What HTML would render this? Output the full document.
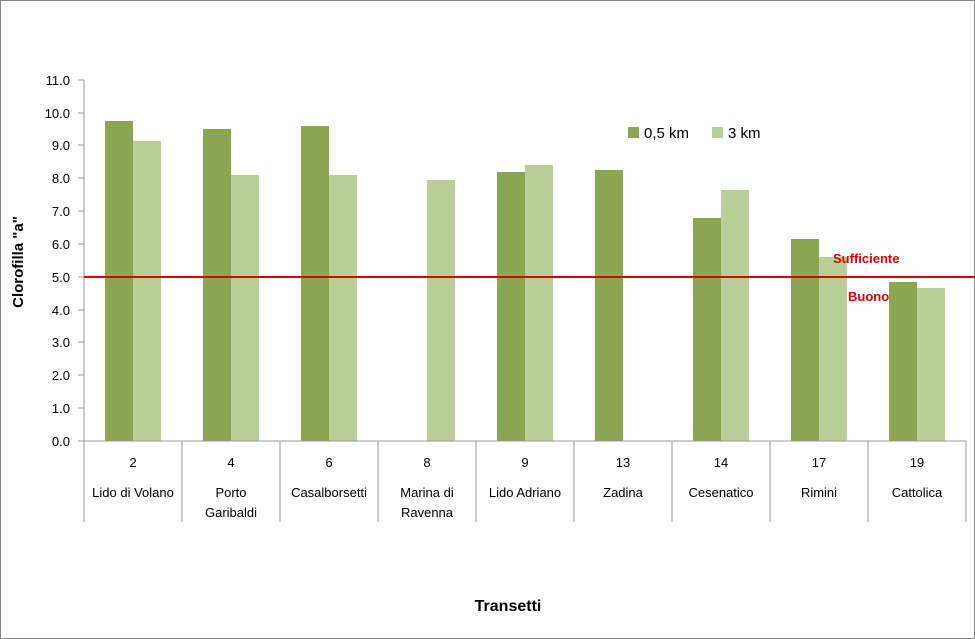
<!DOCTYPE html>
<html><head><style>body{margin:0;background:#fff}svg{display:block}text{font-family:"Liberation Sans",sans-serif}</style></head><body>
<svg width="975" height="639" xmlns="http://www.w3.org/2000/svg">
<rect x="0.5" y="0.5" width="974" height="638" fill="#fff" stroke="#888"/>
<g font-size="13" fill="#000" text-anchor="end">
<text x="70" y="446">0.0</text><text x="70" y="413">1.0</text><text x="70" y="380">2.0</text><text x="70" y="347">3.0</text><text x="70" y="315">4.0</text><text x="70" y="282">5.0</text><text x="70" y="249">6.0</text><text x="70" y="216">7.0</text><text x="70" y="183">8.0</text><text x="70" y="150">9.0</text><text x="70" y="118">10.0</text><text x="70" y="85">11.0</text>
</g>
<g stroke="#999"><line x1="84" y1="80" x2="84" y2="522"/>
<line x1="78" y1="441" x2="84" y2="441"/><line x1="78" y1="408" x2="84" y2="408"/><line x1="78" y1="375" x2="84" y2="375"/><line x1="78" y1="342" x2="84" y2="342"/><line x1="78" y1="310" x2="84" y2="310"/><line x1="78" y1="277" x2="84" y2="277"/><line x1="78" y1="244" x2="84" y2="244"/><line x1="78" y1="211" x2="84" y2="211"/><line x1="78" y1="178" x2="84" y2="178"/><line x1="78" y1="145" x2="84" y2="145"/><line x1="78" y1="113" x2="84" y2="113"/><line x1="78" y1="80" x2="84" y2="80"/>
</g>
<g id="bars">
<rect x="105" y="121" width="28" height="320" fill="#8ba650"/><rect x="133" y="141" width="28" height="300" fill="#b9cf97"/>
<rect x="203" y="129" width="28" height="312" fill="#8ba650"/><rect x="231" y="175" width="28" height="266" fill="#b9cf97"/>
<rect x="301" y="126" width="28" height="315" fill="#8ba650"/><rect x="329" y="175" width="28" height="266" fill="#b9cf97"/>
<rect x="427" y="180" width="28" height="261" fill="#b9cf97"/>
<rect x="497" y="172" width="28" height="269" fill="#8ba650"/><rect x="525" y="165" width="28" height="276" fill="#b9cf97"/>
<rect x="595" y="170" width="28" height="271" fill="#8ba650"/>
<rect x="693" y="218" width="28" height="223" fill="#8ba650"/><rect x="721" y="190" width="28" height="251" fill="#b9cf97"/>
<rect x="791" y="239" width="28" height="202" fill="#8ba650"/><rect x="819" y="257" width="28" height="184" fill="#b9cf97"/>
<rect x="889" y="282" width="28" height="159" fill="#8ba650"/><rect x="917" y="288" width="28" height="153" fill="#b9cf97"/>
</g>
<g stroke="#999"><line x1="84" y1="441" x2="966" y2="441"/>
<line x1="182" y1="441" x2="182" y2="522"/><line x1="280" y1="441" x2="280" y2="522"/><line x1="378" y1="441" x2="378" y2="522"/><line x1="476" y1="441" x2="476" y2="522"/><line x1="574" y1="441" x2="574" y2="522"/><line x1="672" y1="441" x2="672" y2="522"/><line x1="770" y1="441" x2="770" y2="522"/><line x1="868" y1="441" x2="868" y2="522"/><line x1="966" y1="441" x2="966" y2="522"/>
</g>
<line x1="84" y1="277" x2="975" y2="277" stroke="#e00000" stroke-width="2"/>
<text x="833" y="263" font-size="13" font-weight="bold" fill="#e00000">Sufficiente</text>
<text x="848" y="301" font-size="13" font-weight="bold" fill="#e00000">Buono</text>
<rect x="628" y="127" width="11" height="11" fill="#8ba650"/><text x="644" y="138" font-size="15">0,5 km</text>
<rect x="712" y="127" width="11" height="11" fill="#b9cf97"/><text x="728" y="138" font-size="15">3 km</text>
<g font-size="13" text-anchor="middle">
<text x="133" y="467">2</text><text x="231" y="467">4</text><text x="329" y="467">6</text><text x="427" y="467">8</text><text x="525" y="467">9</text><text x="623" y="467">13</text><text x="721" y="467">14</text><text x="819" y="467">17</text><text x="917" y="467">19</text>
<text x="133" y="497">Lido di Volano</text><text x="231" y="497">Porto</text><text x="231" y="517">Garibaldi</text><text x="329" y="497">Casalborsetti</text><text x="427" y="497">Marina di</text><text x="427" y="517">Ravenna</text><text x="525" y="497">Lido Adriano</text><text x="623" y="497">Zadina</text><text x="721" y="497">Cesenatico</text><text x="819" y="497">Rimini</text><text x="917" y="497">Cattolica</text>
</g>
<text x="508" y="611" font-size="16" font-weight="bold" text-anchor="middle">Transetti</text>
<text transform="translate(23,262) rotate(-90)" font-size="15" font-weight="bold" text-anchor="middle">Clorofilla "a"</text>
</svg>
</body></html>
